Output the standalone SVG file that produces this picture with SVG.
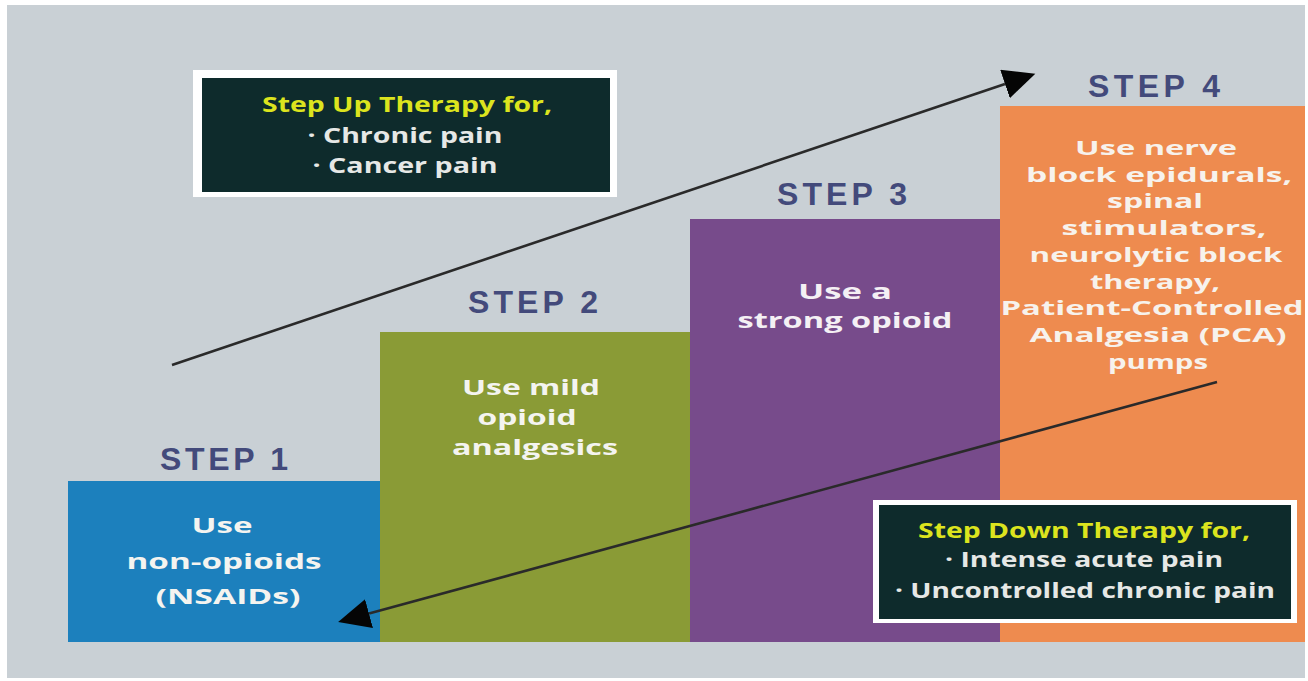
<svg xmlns="http://www.w3.org/2000/svg" width="1308" height="681" viewBox="0 0 1308 681">
<defs>
<style>
.step{font-family:"Liberation Sans",Arial,sans-serif;font-weight:bold;font-size:32px;fill:#434a7b;text-anchor:middle}
.bt{font-family:"Open Sans","DejaVu Sans",sans-serif;font-weight:bold;font-size:22px;fill:#f4f4f0;text-anchor:middle}
.b3{font-family:"Open Sans","DejaVu Sans",sans-serif;font-weight:bold;font-size:21px;fill:#f4f0f4;text-anchor:middle}
.b4{font-family:"Open Sans","DejaVu Sans",sans-serif;font-weight:bold;font-size:19.5px;fill:#f7f2ec;text-anchor:middle}
.hd{font-family:"Open Sans","DejaVu Sans",sans-serif;font-weight:bold;font-size:21px;fill:#dce41e;text-anchor:middle}
.li{font-family:"Open Sans","DejaVu Sans",sans-serif;font-weight:bold;font-size:21px;fill:#e6e8e6;text-anchor:middle}
.outer{fill:#ffffff}
.inner{fill:#0e2b2c}
.arr{stroke:#2a2a2a;stroke-width:2.6;fill:none}
</style>
<marker id="head" markerUnits="userSpaceOnUse" markerWidth="34" markerHeight="32" refX="0" refY="15" orient="auto">
<path d="M0,0 L32,15 L0,30 z" fill="#050505"/>
</marker>
</defs>
<rect x="0" y="0" width="1308" height="681" fill="#ffffff"/>
<rect x="7" y="5" width="1298" height="673" fill="#c9d0d5"/>

<g id="step1">
<text class="step" x="224" y="470" textLength="128" lengthAdjust="spacing">STEP 1</text>
<rect x="68" y="481" width="312" height="161" fill="#1c80bd"/>
<text class="bt" x="222" y="533" textLength="61" lengthAdjust="spacingAndGlyphs">Use</text>
<text class="bt" x="224" y="569" textLength="195" lengthAdjust="spacingAndGlyphs">non-opioids</text>
<text class="bt" x="228" y="604" textLength="145" lengthAdjust="spacingAndGlyphs">(NSAIDs)</text>
</g>

<g id="step2">
<text class="step" x="533" y="313" textLength="130" lengthAdjust="spacing">STEP 2</text>
<rect x="380" y="332" width="310" height="310" fill="#8a9b36"/>
<text class="bt" x="531" y="395" textLength="138" lengthAdjust="spacingAndGlyphs">Use mild</text>
<text class="bt" x="527" y="425" textLength="99" lengthAdjust="spacingAndGlyphs">opioid</text>
<text class="bt" x="535" y="455" textLength="166" lengthAdjust="spacingAndGlyphs">analgesics</text>
</g>

<g id="step3">
<text class="step" x="842" y="205" textLength="130" lengthAdjust="spacing">STEP 3</text>
<rect x="690" y="219" width="310" height="423" fill="#774b8b"/>
<text class="b3" x="845" y="299" textLength="94" lengthAdjust="spacingAndGlyphs">Use a</text>
<text class="b3" x="845" y="328" textLength="215" lengthAdjust="spacingAndGlyphs">strong opioid</text>
</g>

<g id="step4">
<text class="step" x="1154" y="97" textLength="132" lengthAdjust="spacing">STEP 4</text>
<rect x="1000" y="106" width="305" height="536" fill="#ee8b4f"/>
<text class="b4" x="1156" y="155" textLength="162" lengthAdjust="spacingAndGlyphs">Use nerve</text>
<text class="b4" x="1159" y="181.7" textLength="266" lengthAdjust="spacingAndGlyphs">block epidurals,</text>
<text class="b4" x="1155" y="208.4" textLength="96" lengthAdjust="spacingAndGlyphs">spinal</text>
<text class="b4" x="1164" y="235.1" textLength="205" lengthAdjust="spacingAndGlyphs">stimulators,</text>
<text class="b4" x="1156" y="261.8" textLength="253" lengthAdjust="spacingAndGlyphs">neurolytic block</text>
<text class="b4" x="1155" y="288.5" textLength="130" lengthAdjust="spacingAndGlyphs">therapy,</text>
<text class="b4" x="1152" y="315.2" textLength="303" lengthAdjust="spacingAndGlyphs">Patient-Controlled</text>
<text class="b4" x="1158" y="341.9" textLength="257" lengthAdjust="spacingAndGlyphs">Analgesia (PCA)</text>
<text class="b4" x="1158" y="368.6" textLength="100" lengthAdjust="spacingAndGlyphs">pumps</text>
</g>

<g id="connectors">
<line class="arr" x1="172" y1="365" x2="1005" y2="84" marker-end="url(#head)"/>
<line class="arr" x1="1217" y1="382" x2="369" y2="613.6" marker-end="url(#head)"/>
</g>

<g id="stepup">
<rect class="outer" x="193" y="70" width="424" height="127"/>
<rect class="inner" x="202" y="78" width="408" height="114"/>
<text class="hd" x="407" y="112" textLength="290" lengthAdjust="spacingAndGlyphs">Step Up Therapy for,</text>
<text class="li" x="405" y="143" textLength="195" lengthAdjust="spacingAndGlyphs">· Chronic pain</text>
<text class="li" x="405" y="173" textLength="185" lengthAdjust="spacingAndGlyphs">· Cancer pain</text>
</g>

<g id="stepdown">
<rect class="outer" x="873" y="500" width="424" height="123"/>
<rect class="inner" x="879" y="505" width="412" height="114"/>
<text class="hd" x="1084" y="538" textLength="332" lengthAdjust="spacingAndGlyphs">Step Down Therapy for,</text>
<text class="li" x="1084" y="567" textLength="278" lengthAdjust="spacingAndGlyphs">· Intense acute pain</text>
<text class="li" x="1085" y="598" textLength="380" lengthAdjust="spacingAndGlyphs">· Uncontrolled chronic pain</text>
</g>
</svg>
